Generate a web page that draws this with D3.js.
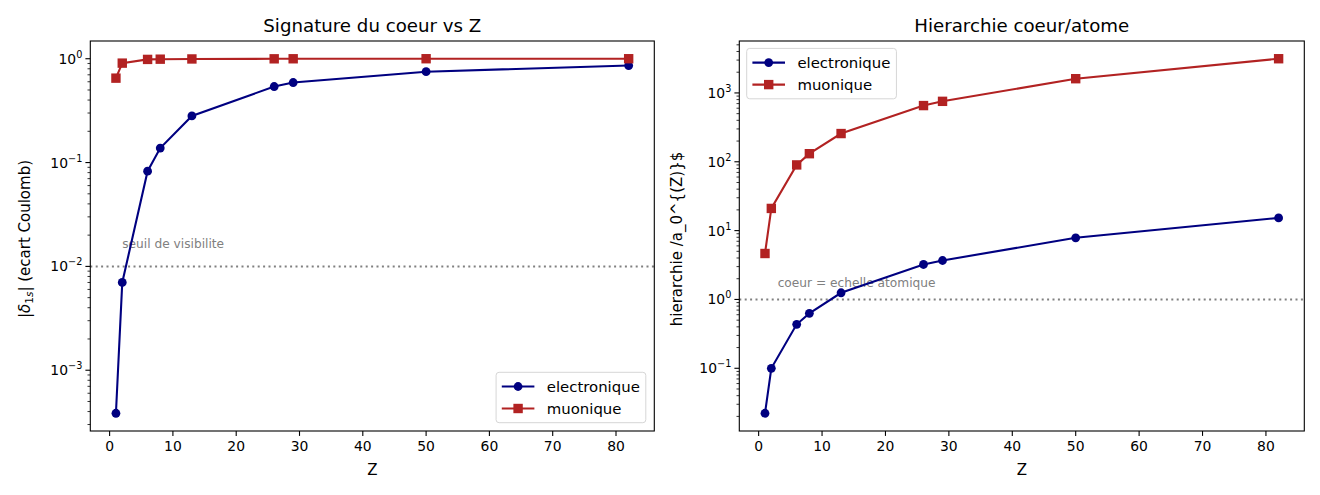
<!DOCTYPE html>
<html>
<head>
<meta charset="utf-8">
<script src="https://cdn.jsdelivr.net/npm/d3@7"></script>
<style>
  body { margin: 0; background: #fff; }
  svg { font-family: "DejaVu Sans", sans-serif; }
</style>
</head>
<body>
<svg id="fig" width="1320" height="495"></svg>
<script>
// donnees
var Z = [1, 2, 6, 8, 13, 26, 29, 50, 82];
var deltaElec = [3.85e-4, 0.0070, 0.0826, 0.138, 0.281, 0.54, 0.59, 0.75, 0.86];
var deltaMuon = [0.65, 0.907, 0.985, 0.99, 0.995, 0.998, 0.999, 1.0, 1.0];
var hierElec = [0.0222, 0.100, 0.435, 0.628, 1.25, 3.22, 3.68, 7.86, 15.3];
var hierMuon = [4.65, 21.0, 90.0, 131, 257, 655, 755, 1610, 3140];
var xTicks = [0, 10, 20, 30, 40, 50, 60, 70, 80];
var seriesNames = ["electronique", "muonique"];

var navy = "#000080", red = "#b22222";
var svg = d3.select("#fig");

function supLabel(sel, e) {
    sel.append("tspan").text("10");
    sel.append("tspan").attr("dy", -6).attr("font-size", 9.7)
        .text(e < 0 ? "\u2212" + (-e) : e);
}

function panel(opt) {
    var g = svg.append("g");
    var x0 = opt.left, x1 = opt.right, y0 = 41, y1 = 431;

    var x = d3.scaleLinear().domain([-3.05, 86.05]).range([x0, x1]);

    var all = opt.series[0].concat(opt.series[1]);
    var lo = Math.log10(d3.min(all)), hi = Math.log10(d3.max(all));
    var pad = 0.05 * (hi - lo);
    var y = d3.scaleLog().domain([Math.pow(10, lo - pad), Math.pow(10, hi + pad)]).range([y1, y0]);

    // ticks x
    var xa = g.append("g");
    xTicks.forEach(function (t) {
        xa.append("line").attr("x1", x(t)).attr("x2", x(t)).attr("y1", y1).attr("y2", y1 + 4.9)
            .attr("stroke", "#000").attr("stroke-width", 1.1);
        xa.append("text").attr("x", x(t)).attr("y", y1 + 20).attr("text-anchor", "middle")
            .attr("font-size", 13.9).text(t);
    });

    // ticks y (log)
    var ya = g.append("g");
    var d = y.domain();
    for (var e = Math.floor(Math.log10(d[0])); e <= Math.ceil(Math.log10(d[1])); e++) {
        for (var m = 1; m < 10; m++) {
            var v = m * Math.pow(10, e);
            if (v < d[0] || v > d[1]) continue;
            var len = m === 1 ? 4.9 : 2.8;
            ya.append("line").attr("x1", x0 - len).attr("x2", x0).attr("y1", y(v)).attr("y2", y(v))
                .attr("stroke", "#000").attr("stroke-width", m === 1 ? 1.1 : 0.8);
            if (m === 1) {
                var tx = ya.append("text").attr("x", x0 - 8).attr("y", y(v) + 5)
                    .attr("text-anchor", "end").attr("font-size", 13.9);
                supLabel(tx, e);
            }
        }
    }

    // ligne de reference
    g.append("line").attr("x1", x0).attr("x2", x1).attr("y1", y(opt.refY)).attr("y2", y(opt.refY))
        .attr("stroke", "#808080").attr("stroke-width", 2).attr("stroke-dasharray", "2,3.4");
    g.append("text").attr("x", x(opt.noteX)).attr("y", y(opt.noteY)).attr("font-size", 12.2)
        .attr("fill", "#808080").text(opt.note);

    var line = d3.line().x(function (p) { return x(p[0]); }).y(function (p) { return y(p[1]); });
    var cols = [navy, red];
    opt.series.forEach(function (s, i) {
        var pts = d3.zip(Z, s);
        g.append("path").datum(pts).attr("d", line).attr("fill", "none")
            .attr("stroke", cols[i]).attr("stroke-width", 2.08);
        var mk = g.append("g").selectAll(i === 0 ? "circle" : "rect").data(pts).enter();
        if (i === 0) {
            mk.append("circle").attr("cx", function (p) { return x(p[0]); })
                .attr("cy", function (p) { return y(p[1]); }).attr("r", 4.4).attr("fill", navy);
        } else {
            mk.append("rect").attr("x", function (p) { return x(p[0]) - 4.7; })
                .attr("y", function (p) { return y(p[1]) - 4.7; })
                .attr("width", 9.4).attr("height", 9.4).attr("fill", red);
        }
    });

    // cadre
    g.append("rect").attr("x", x0).attr("y", y0).attr("width", x1 - x0).attr("height", y1 - y0)
        .attr("fill", "none").attr("stroke", "#000").attr("stroke-width", 1.1);

    // titres
    g.append("text").attr("x", (x0 + x1) / 2).attr("y", 32).attr("text-anchor", "middle")
        .attr("font-size", 18.2).text(opt.title);
    g.append("text").attr("x", (x0 + x1) / 2).attr("y", 475).attr("text-anchor", "middle")
        .attr("font-size", 15).text("Z");
    var yl = g.append("text").attr("transform", "translate(" + opt.ylabX + "," + ((y0 + y1) / 2 + 3) + ") rotate(-90)")
        .attr("text-anchor", "middle").attr("font-size", 15);
    opt.ylab(yl);

    // legende
    var lg = g.append("g");
    var lw = 150, lh = 50.4;
    var lx = opt.legendRight ? x1 - 8.5 - lw : x0 + 7.4;
    var ly = opt.legendRight ? y1 - 8.3 - lh : y0 + 7.4;
    var box = lg.append("rect").attr("x", lx).attr("y", ly).attr("width", lw).attr("height", lh)
        .attr("rx", 3).attr("fill", "#fff").attr("fill-opacity", 0.8)
        .attr("stroke", "#d6d6d6").attr("stroke-width", 1);
    var maxW = 0;
    seriesNames.forEach(function (n, i) {
        var cy = ly + 14.2 + i * 22;
        lg.append("line").attr("x1", lx + 5.7).attr("x2", lx + 38.3).attr("y1", cy).attr("y2", cy)
            .attr("stroke", cols[i]).attr("stroke-width", 2.08);
        if (i === 0) lg.append("circle").attr("cx", lx + 22).attr("cy", cy).attr("r", 4.4).attr("fill", navy);
        else lg.append("rect").attr("x", lx + 22 - 4.7).attr("y", cy - 4.7).attr("width", 9.4).attr("height", 9.4).attr("fill", red);
        var t = lg.append("text").attr("x", lx + 50.7).attr("y", cy + 5.3).attr("font-size", 14.9).text(n);
        maxW = Math.max(maxW, t.node().getComputedTextLength());
    });
    var w = 50.7 + maxW + 6;
    box.attr("width", w);
    if (opt.legendRight) lg.attr("transform", "translate(" + (lw - w) + ",0)");
}

panel({
    left: 90.3, right: 654.3,
    series: [deltaElec, deltaMuon],
    refY: 1e-2, noteX: 2, noteY: 1.5e-2, note: "seuil de visibilite",
    title: "Signature du coeur vs Z",
    ylabX: 30,
    ylab: function (t) {
        t.append("tspan").text("|");
        t.append("tspan").attr("font-style", "italic").text("\u03b4");
        t.append("tspan").attr("dy", 3).attr("font-size", 10.5).text("1");
        t.append("tspan").attr("font-size", 10.5).attr("font-style", "italic").text("s");
        t.append("tspan").attr("dy", -3).text("| (ecart Coulomb)");
    },
    legendRight: true
});

panel({
    left: 739.3, right: 1304.3,
    series: [hierElec, hierMuon],
    refY: 1, noteX: 3, noteY: 1.5, note: "coeur = echelle atomique",
    title: "Hierarchie coeur/atome",
    ylabX: 682,
    ylab: function (t) { t.text("hierarchie /a_0^{(Z)}$"); },
    legendRight: false
});
</script>
</body>
</html>
